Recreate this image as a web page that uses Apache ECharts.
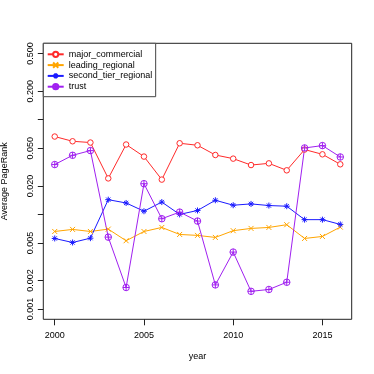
<!DOCTYPE html>
<html>
<head>
<meta charset="utf-8">
<script src="https://cdn.jsdelivr.net/npm/echarts@6.0.0/dist/echarts.min.js"></script>
<style>
html, body { margin: 0; padding: 0; background: #fff; }
#chart { width: 374px; height: 374px; }
</style>
</head>
<body>
<div id="chart"></div>
<script>
var years = [2000, 2001, 2002, 2003, 2004, 2005, 2006, 2007, 2008, 2009, 2010, 2011, 2012, 2013, 2014, 2015, 2016];

var majorCommercial = [0.0664, 0.0592, 0.0574, 0.0240, 0.0547, 0.0408, 0.0233, 0.0564, 0.0537, 0.0424, 0.0388, 0.0332, 0.0346, 0.0292, 0.0484, 0.0431, 0.0338];
var leadingRegional = [0.0066, 0.00694, 0.0066, 0.00699, 0.00527, 0.0066, 0.00728, 0.00614, 0.0060, 0.00571, 0.00673, 0.00711, 0.00728, 0.00778, 0.00557, 0.00585, 0.00734];
var secondTierRegional = [0.00557, 0.00505, 0.00561, 0.0143, 0.0132, 0.0108, 0.0135, 0.0100, 0.0110, 0.0141, 0.0125, 0.0129, 0.0124, 0.0122, 0.0088, 0.0088, 0.00784];
var trust = [0.0336, 0.0421, 0.0472, 0.00575, 0.00169, 0.0211, 0.0090, 0.01057, 0.0085, 0.0018, 0.0040, 0.00154, 0.00161, 0.00192, 0.0503, 0.0533, 0.0404];

var seriesNames = ['major_commercial', 'leading_regional', 'second_tier_regional', 'trust'];

var xTicks = [2000, 2005, 2010, 2015];
var yTicks = [0.001, 0.002, 0.005, 0.01, 0.02, 0.05, 0.1, 0.2, 0.5];
var yLabels = [0.001, 0.002, 0.005, 0.02, 0.05, 0.2, 0.5];

var font = 'Liberation Sans';

// R style point symbols
var pchCircle = 'path://M10,5A5,5 0 1 1 0,5A5,5 0 1 1 10,5Z';
var pchX = 'path://M0,0L10,10M10,0L0,10';
var pchStar = 'path://M5,0L5,10M0,5L10,5M1.5,1.5L8.5,8.5M8.5,1.5L1.5,8.5';
var pchCirclePlus = 'path://M10,5A5,5 0 1 1 0,5A5,5 0 1 1 10,5ZM5,0L5,10M0,5L10,5';

// y is drawn on a log10 scale: the value axis works in log10 units
function lg(v) { return Math.log10(v); }

function pairs(vals) {
	return years.map(function(y, i) { return [y, lg(vals[i])]; });
}

function makeSeries(name, vals, color, symbol, size, fill) {
	return {
		name: name,
		type: 'line',
		data: pairs(vals),
		symbol: symbol,
		symbolSize: size,
		showAllSymbol: true,
		lineStyle: { color: color, width: 1 },
		itemStyle: { color: fill, borderColor: color, borderWidth: 1 },
		emphasis: { disabled: true }
	};
}

var myChart = echarts.init(document.getElementById('chart'));

var option = {
	backgroundColor: '#fff',
	animation: false,
	grid: {
		left: 43.3,
		right: 22.3,
		top: 43.3,
		bottom: 54.7,
		show: true,
		borderColor: '#222',
		borderWidth: 1,
		outerBoundsMode: 'none'
	},
	legend: {
		orient: 'vertical',
		left: 43.3,
		top: 43.3,
		padding: [5.6, 3.4, 4.6, 3.4],
		itemWidth: 16,
		itemHeight: 6.5,
		itemGap: 0,
		itemTextGap: 7.7,
		selectedMode: false,
		borderColor: '#444',
		borderWidth: 1,
		backgroundColor: '#fff',
		textStyle: { fontFamily: font, fontSize: 9, color: '#000', lineHeight: 10.8 },
		data: seriesNames
	},
	xAxis: {
		type: 'value',
		min: 1999.36,
		max: 2016.64,
		name: 'year',
		nameLocation: 'middle',
		nameGap: 33,
		nameTextStyle: { fontFamily: font, fontSize: 9, color: '#000' },
		axisLine: { show: false },
		axisTick: { show: true, length: 6, customValues: xTicks, lineStyle: { color: '#222' } },
		axisLabel: {
			customValues: xTicks,
			margin: 12,
			fontFamily: font,
			fontSize: 9,
			color: '#000',
			formatter: function(v) { return String(Math.round(v)); }
		},
		splitLine: { show: false }
	},
	yAxis: {
		type: 'value',
		min: -3.108,
		max: -0.193,
		name: 'Average PageRank',
		nameLocation: 'middle',
		nameGap: 34,
		nameTextStyle: { fontFamily: font, fontSize: 9, color: '#000' },
		axisLine: { show: false },
		axisTick: { show: true, length: 5.5, customValues: yTicks.map(lg), lineStyle: { color: '#222' } },
		axisLabel: {
			customValues: yLabels.map(lg),
			rotate: 90,
			margin: 8,
			fontFamily: font,
			fontSize: 9,
			color: '#000',
			formatter: function(v) { return Math.pow(10, v).toFixed(3); }
		},
		splitLine: { show: false }
	},
	series: [
		makeSeries(seriesNames[0], majorCommercial, '#FF2A2A', pchCircle, 5.5, '#fff'),
		makeSeries(seriesNames[1], leadingRegional, '#FFA500', pchX, 5, '#FFA500'),
		makeSeries(seriesNames[2], secondTierRegional, '#1A1AFF', pchStar, 6, '#1A1AFF'),
		makeSeries(seriesNames[3], trust, '#A020F0', pchCirclePlus, 6.5, 'rgba(0,0,0,0)')
	]
};

myChart.setOption(option);
</script>
</body>
</html>
